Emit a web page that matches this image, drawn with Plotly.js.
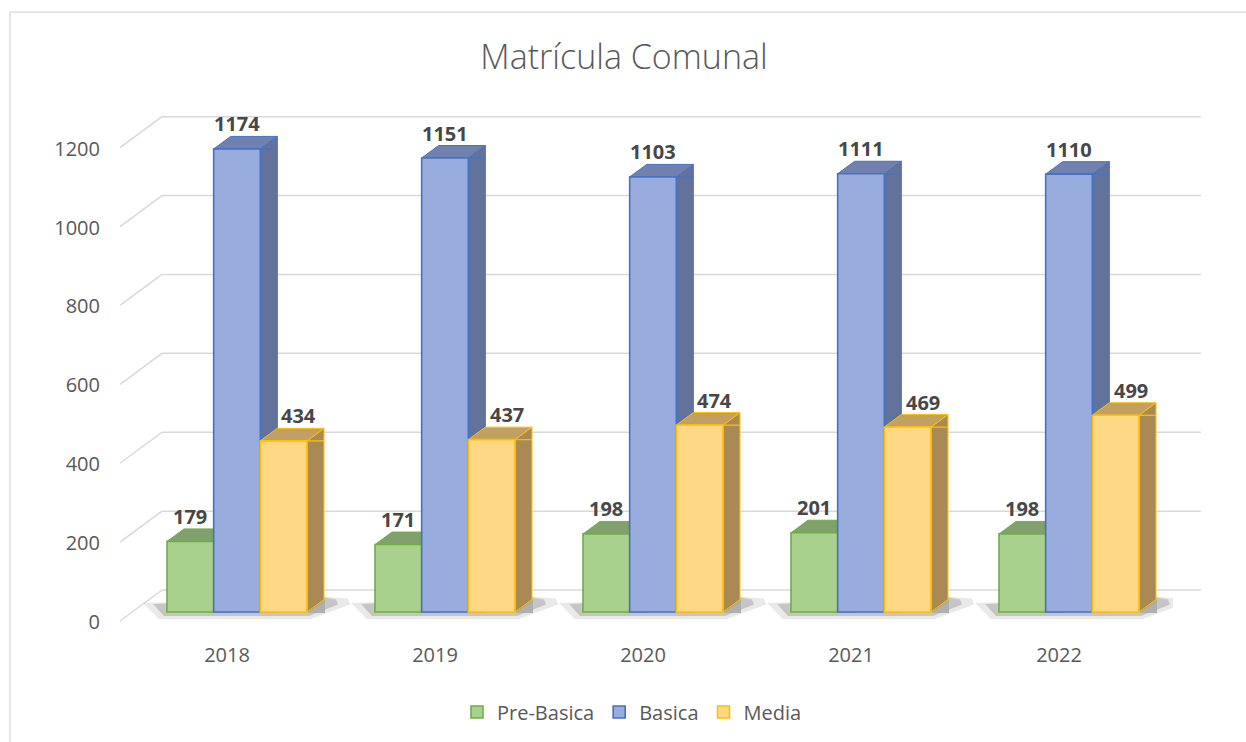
<!DOCTYPE html>
<html><head><meta charset="utf-8">
<script src="https://cdn.plot.ly/plotly-3.0.1.min.js"></script>
<style>html,body{margin:0;padding:0;background:#fff}#chart{width:1246px;height:742px}</style>
</head><body><div id="chart"></div>
<script>
// ---- data ----
const years = ['2018', '2019', '2020', '2021', '2022'];
const preBasica = [179, 171, 198, 201, 198];
const basica = [1174, 1151, 1103, 1111, 1110];
const media = [434, 437, 474, 469, 499];
const seriesNames = ['Pre-Basica', 'Basica', 'Media'];
const yTicks = [0, 200, 400, 600, 800, 1000, 1200];
const chartTitle = 'Matrícula Comunal';

// ---- styles ----
const seriesValues = [preBasica, basica, media];
const frontColors = ['#a9d18e', '#98acde', '#ffd886'];
const edgeColors = ['#70ad47', '#4472c4', '#ffc000'];
const topColors = ['#80a06c', '#7081b0', '#c29f62'];
const sideColors = ['#789864', '#63729a', '#a98a55'];
const labelXShift = [0, 0, 15];

const W = 1246, H = 742;
const M = {l: 133, r: 73, t: 95, b: 113};
const PW = W - M.l - M.r, PH = H - M.t - M.b;
const BARGAP = 0.327;
const BW = (1 - BARGAP) / 3;          // bar width in category units
const CAT_PX = PW / years.length;
const BW_PX = BW * CAT_PX;
const DX = 17, DY = 12.5;             // depth of 3D effect in px
const YMIN = -40.5, YMAX = 1310.7;
const font = 'Open Sans, Noto Sans, sans-serif';
const textGray = '#595959';

const px2paperX = p => (p - M.l) / PW;
const px2paperY = p => (H - M.b - p) / PH;

const traces = seriesValues.map((vals, k) => ({
  type: 'bar', name: seriesNames[k], x: years, y: vals,
  marker: {color: frontColors[k], line: {color: edgeColors[k], width: 1.6}},
  hoverinfo: 'x+y+name'
}));

const shapes = [];
// chart frame
shapes.push({type: 'rect', xref: 'paper', yref: 'paper', layer: 'below',
  x0: px2paperX(10), x1: px2paperX(1300), y0: px2paperY(800), y1: px2paperY(12),
  line: {color: '#d9d9d9', width: 1.3}, fillcolor: 'rgba(0,0,0,0)'});
// 3D gridlines (front diagonal + back wall)
yTicks.forEach(v => {
  shapes.push({type: 'line', layer: 'below', xref: 'paper', yref: 'y', ysizemode: 'pixel', yanchor: v,
    x0: px2paperX(120), x1: px2paperX(162), y0: -9, y1: 22, line: {color: '#d9d9d9', width: 1.5}});
  shapes.push({type: 'line', layer: 'below', xref: 'paper', yref: 'y', ysizemode: 'pixel', yanchor: v,
    x0: px2paperX(162), x1: px2paperX(1201), y0: 22, y1: 22, line: {color: '#d9d9d9', width: 1.5}});
});
// floor shadows (two layers to fake a soft edge)
years.forEach((yr, i) => {
  const gl = i - 1.5 * BW;
  const GW = 3 * BW_PX;
  shapes.push({type: 'path', layer: 'below', xref: 'x', yref: 'y', xsizemode: 'pixel', ysizemode: 'pixel',
    xanchor: gl, yanchor: 0,
    path: `M-24,9 L-8,-7 L${GW + 4},-7 L${GW + DX + 26},${DY - 5} L${GW + DX + 24},${DY + 1} L${GW + DX},${DY + 3} Z`,
    fillcolor: 'rgba(120,120,120,0.16)', line: {width: 0}});
  shapes.push({type: 'path', layer: 'below', xref: 'x', yref: 'y', xsizemode: 'pixel', ysizemode: 'pixel',
    xanchor: gl, yanchor: 0,
    path: `M-14,8 L-3,-4 L${GW + 2},-4 L${GW + DX + 14},${DY - 5} L${GW + DX + 12},${DY} L${GW + DX},${DY + 2} Z`,
    fillcolor: 'rgba(90,90,90,0.25)', line: {width: 0}});
});
// 3D faces
seriesValues.forEach((vals, k) => {
  vals.forEach((v, i) => {
    const right = i + (k - 1) * BW + BW / 2;
    shapes.push({type: 'rect', layer: 'below', xref: 'x', yref: 'y',
      x0: right, x1: right + DX / CAT_PX, y0: 0, y1: v,
      fillcolor: sideColors[k], line: {color: edgeColors[k], width: 1}});
    shapes.push({type: 'path', layer: 'below', xref: 'x', yref: 'y', xsizemode: 'pixel', ysizemode: 'pixel',
      xanchor: right, yanchor: 0,
      path: `M0,-1 L${DX + 1},${DY} L${DX + 1},-1 Z`, fillcolor: 'rgba(175,175,175,1)', line: {width: 0}});
    shapes.push({type: 'line', layer: 'below', xref: 'x', yref: 'y', xsizemode: 'pixel', ysizemode: 'pixel',
      xanchor: right, yanchor: 0, x0: 0, y0: 0, x1: DX, y1: DY, line: {color: edgeColors[k], width: 1}});
    shapes.push({type: 'path', layer: 'below', xref: 'x', yref: 'y', xsizemode: 'pixel', ysizemode: 'pixel',
      xanchor: right, yanchor: v,
      path: `M0,0 L${DX},${DY} L${DX},0 Z`, fillcolor: sideColors[k], line: {color: edgeColors[k], width: 1}});
    shapes.push({type: 'path', layer: 'below', xref: 'x', yref: 'y', xsizemode: 'pixel', ysizemode: 'pixel',
      xanchor: right, yanchor: v,
      path: `M${-BW_PX},0 L${-BW_PX + DX},${DY} L${DX},${DY} L0,0 Z`,
      fillcolor: topColors[k], line: {color: edgeColors[k], width: 1}});
  });
});

const annotations = [];
seriesValues.forEach((vals, k) => {
  vals.forEach((v, i) => {
    annotations.push({x: i + (k - 1) * BW, y: v, xref: 'x', yref: 'y', text: String(v),
      showarrow: false, yanchor: 'middle', xanchor: 'center', yshift: 25, xshift: labelXShift[k],
      font: {family: font, size: 20, color: '#474747', weight: 700}});
  });
});

const layout = {
  width: W, height: H, margin: M,
  paper_bgcolor: '#ffffff', plot_bgcolor: 'rgba(0,0,0,0)',
  title: {text: chartTitle, x: px2paperX(624), xref: 'paper', xanchor: 'center', y: 1 - 57 / H, yanchor: 'middle',
    font: {family: font, size: 34, color: textGray, weight: 300}},
  barmode: 'group', bargap: BARGAP, bargroupgap: 0,
  xaxis: {type: 'category', range: [-0.5, 4.5], showgrid: false, zeroline: false, showline: false, ticks: '',
    tickfont: {family: font, size: 20, color: textGray}, ticklabelshift: -10, ticklabelstandoff: 13, fixedrange: true},
  yaxis: {range: [YMIN, YMAX], tickvals: yTicks, ticktext: yTicks.map(String), showgrid: false, zeroline: false,
    showline: false, ticks: '', tickfont: {family: font, size: 20, color: textGray},
    ticklabelshift: 10, ticklabelstandoff: 32, fixedrange: true},
  legend: {orientation: 'h', x: px2paperX(632), xanchor: 'center', y: px2paperY(712), yanchor: 'middle',
    font: {family: font, size: 20, color: textGray}, itemclick: false},
  shapes: shapes, annotations: annotations, showlegend: true
};

Plotly.newPlot('chart', traces, layout, {displayModeBar: false, staticPlot: true});
</script></body></html>
